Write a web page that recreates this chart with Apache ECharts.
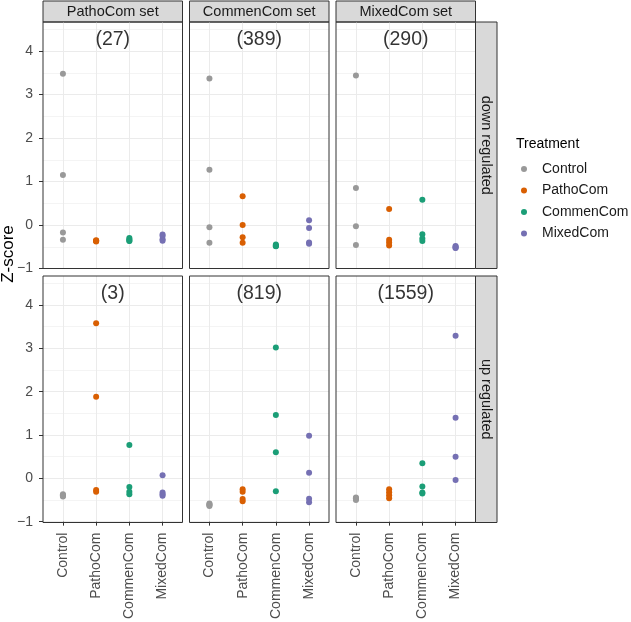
<!DOCTYPE html>
<html><head><meta charset="utf-8">
<script src="https://cdn.jsdelivr.net/npm/echarts@6/dist/echarts.min.js"></script>
<style>html,body{margin:0;padding:0;background:#fff}#c{width:631px;height:622px}</style>
</head><body><div id="c"></div>
<script>
const treatments = ['Control','PathoCom','CommenCom','MixedCom'];
const setNames = ['PathoCom set','CommenCom set','MixedCom set'];
const regulation = ['down regulated','up regulated'];
const geneCounts = [['(27)','(389)','(290)'],['(3)','(819)','(1559)']];
const yTicks = [-1,0,1,2,3,4];
const yMinorTicks = [-0.5,0.5,1.5,2.5,3.5,4.5];
const colors = ['#999999','#D95F02','#1B9E77','#7570B3'];

// Z-scores per panel: [Control, PathoCom, CommenCom, MixedCom]
const downPathoSet  = [[3.48,1.15,-0.17,-0.34],[-0.35,-0.36,-0.37,-0.38],[-0.30,-0.33,-0.36,-0.37],[-0.22,-0.25,-0.33,-0.36]];
const downCommenSet = [[3.37,1.27,-0.05,-0.41],[0.66,0.00,-0.28,-0.41],[-0.45,-0.47,-0.48,-0.49],[0.11,-0.07,-0.40,-0.43]];
const downMixedSet  = [[3.44,0.85,-0.03,-0.46],[0.37,-0.34,-0.40,-0.47],[0.58,-0.21,-0.31,-0.37],[-0.48,-0.50,-0.52,-0.53]];
const upPathoSet    = [[-0.37,-0.39,-0.40,-0.42],[3.58,1.88,-0.27,-0.31],[0.77,-0.20,-0.31,-0.37],[0.07,-0.33,-0.37,-0.40]];
const upCommenSet   = [[-0.58,-0.60,-0.62,-0.64],[-0.25,-0.31,-0.48,-0.53],[3.02,1.46,0.60,-0.30],[0.98,0.13,-0.47,-0.55]];
const upMixedSet    = [[-0.44,-0.46,-0.48,-0.50],[-0.25,-0.32,-0.39,-0.46],[0.35,-0.19,-0.33,-0.35],[3.29,1.40,0.50,-0.04]];
const panels = [[downPathoSet, downCommenSet, downMixedSet],[upPathoSet, upCommenSet, upMixedSet]];

const FONT = 'Liberation Sans, Arial, Helvetica, sans-serif';
const colLeft = [43, 189.5, 336];
const panelW = 139.5;
const rowTop = [22, 276];
const panelH = 246.5;
const stripW = 21.5;

const grid = [], xAxis = [], yAxis = [], series = [], graphic = [];
for (let r = 0; r < 2; r++) {
  for (let c = 0; c < 3; c++) {
    const i = r * 3 + c;
    grid.push({left: colLeft[c], top: rowTop[r], width: panelW, height: panelH, show: false});
    xAxis.push({gridIndex: i, type: 'value', min: 0.4, max: 4.6,
      axisLine: {show: false, onZero: false},
      axisTick: {show: r === 1, customValues: [1,2,3,4], length: 4, lineStyle: {color: '#333333'}},
      axisLabel: {show: r === 1, customValues: [1,2,3,4], formatter: v => treatments[Math.round(v) - 1] || '',
        rotate: 90, margin: 11, fontSize: 14, color: '#4D4D4D', fontFamily: FONT},
      splitLine: {show: true, lineStyle: {color: '#EBEBEB', width: 1}}});
    yAxis.push({gridIndex: i, type: 'value', min: -1, max: 4.67, interval: 1,
      axisLine: {show: false, onZero: false},
      axisTick: {show: c === 0, customValues: yTicks, length: 4, lineStyle: {color: '#333333'}},
      axisLabel: {show: c === 0, customValues: yTicks, margin: 10, fontSize: 14, color: '#4D4D4D', fontFamily: FONT,
        formatter: v => String(v).replace('-', '\u2212')},
      splitLine: {show: true, lineStyle: {color: '#EBEBEB', width: 1}}});
    yAxis.push({gridIndex: i, type: 'value', min: -1, max: 4.67, position: 'right',
      axisLine: {show: false, onZero: false},
      axisTick: {show: false, customValues: yMinorTicks},
      axisLabel: {show: false, customValues: yMinorTicks},
      splitLine: {show: true, lineStyle: {color: '#F4F4F4', width: 1}}});
    const vals = panels[r][c];
    for (let t = 0; t < 4; t++) {
      series.push({type: 'scatter', name: treatments[t], xAxisIndex: i, yAxisIndex: 2 * i,
        symbolSize: 6, itemStyle: {color: colors[t], opacity: 1},
        data: vals[t].map(v => [t + 1, v]), z: 3});
    }
    series.push({type: 'scatter', name: 'count', xAxisIndex: i, yAxisIndex: 2 * i,
      symbolSize: 0, silent: true, data: [[2.5, 4.27]],
      label: {show: true, position: 'inside', formatter: geneCounts[r][c], fontSize: 19.5, color: '#000', fontFamily: FONT}});
    // panel border
    graphic.push({type: 'rect', z: 100, shape: {x: colLeft[c], y: rowTop[r], width: panelW, height: panelH},
      style: {fill: null, stroke: '#333333', lineWidth: 1}});
  }
}
// strips
for (let c = 0; c < 3; c++) {
  graphic.push({type: 'rect', shape: {x: colLeft[c], y: 1, width: panelW, height: 21},
    style: {fill: '#D9D9D9', stroke: '#333333', lineWidth: 1}});
  graphic.push({type: 'text', x: colLeft[c] + panelW / 2, y: 11.5,
    style: {text: setNames[c], fill: '#1A1A1A', font: '14.5px ' + FONT, align: 'center', verticalAlign: 'middle'}});
}
for (let r = 0; r < 2; r++) {
  graphic.push({type: 'rect', shape: {x: colLeft[2] + panelW, y: rowTop[r], width: stripW, height: panelH},
    style: {fill: '#D9D9D9', stroke: '#333333', lineWidth: 1}});
  graphic.push({type: 'text', x: colLeft[2] + panelW + stripW / 2, y: rowTop[r] + panelH / 2, rotation: -Math.PI / 2,
    style: {text: regulation[r], fill: '#1A1A1A', font: '14.5px ' + FONT, align: 'center', verticalAlign: 'middle'}});
}
graphic.push({type: 'text', x: 8, y: 254, rotation: Math.PI / 2,
  style: {text: 'Z-score', fill: '#000', font: '17px ' + FONT, align: 'center', verticalAlign: 'middle'}});
graphic.push({type: 'text', x: 516, y: 144,
  style: {text: 'Treatment', fill: '#000', font: '14px ' + FONT, align: 'left', verticalAlign: 'middle'}});

const chart = echarts.init(document.getElementById('c'), null, {renderer: 'canvas'});
chart.setOption({
  animation: false,
  grid, xAxis, yAxis, series, graphic,
  legend: {data: treatments, orient: 'vertical', left: 516, top: 157, icon: 'circle',
    itemWidth: 6, itemHeight: 6, itemGap: 7.5, selectedMode: false,
    textStyle: {fontSize: 14, color: '#1A1A1A', fontFamily: FONT, padding: [0, 0, 0, 10]}}
});
</script></body></html>
